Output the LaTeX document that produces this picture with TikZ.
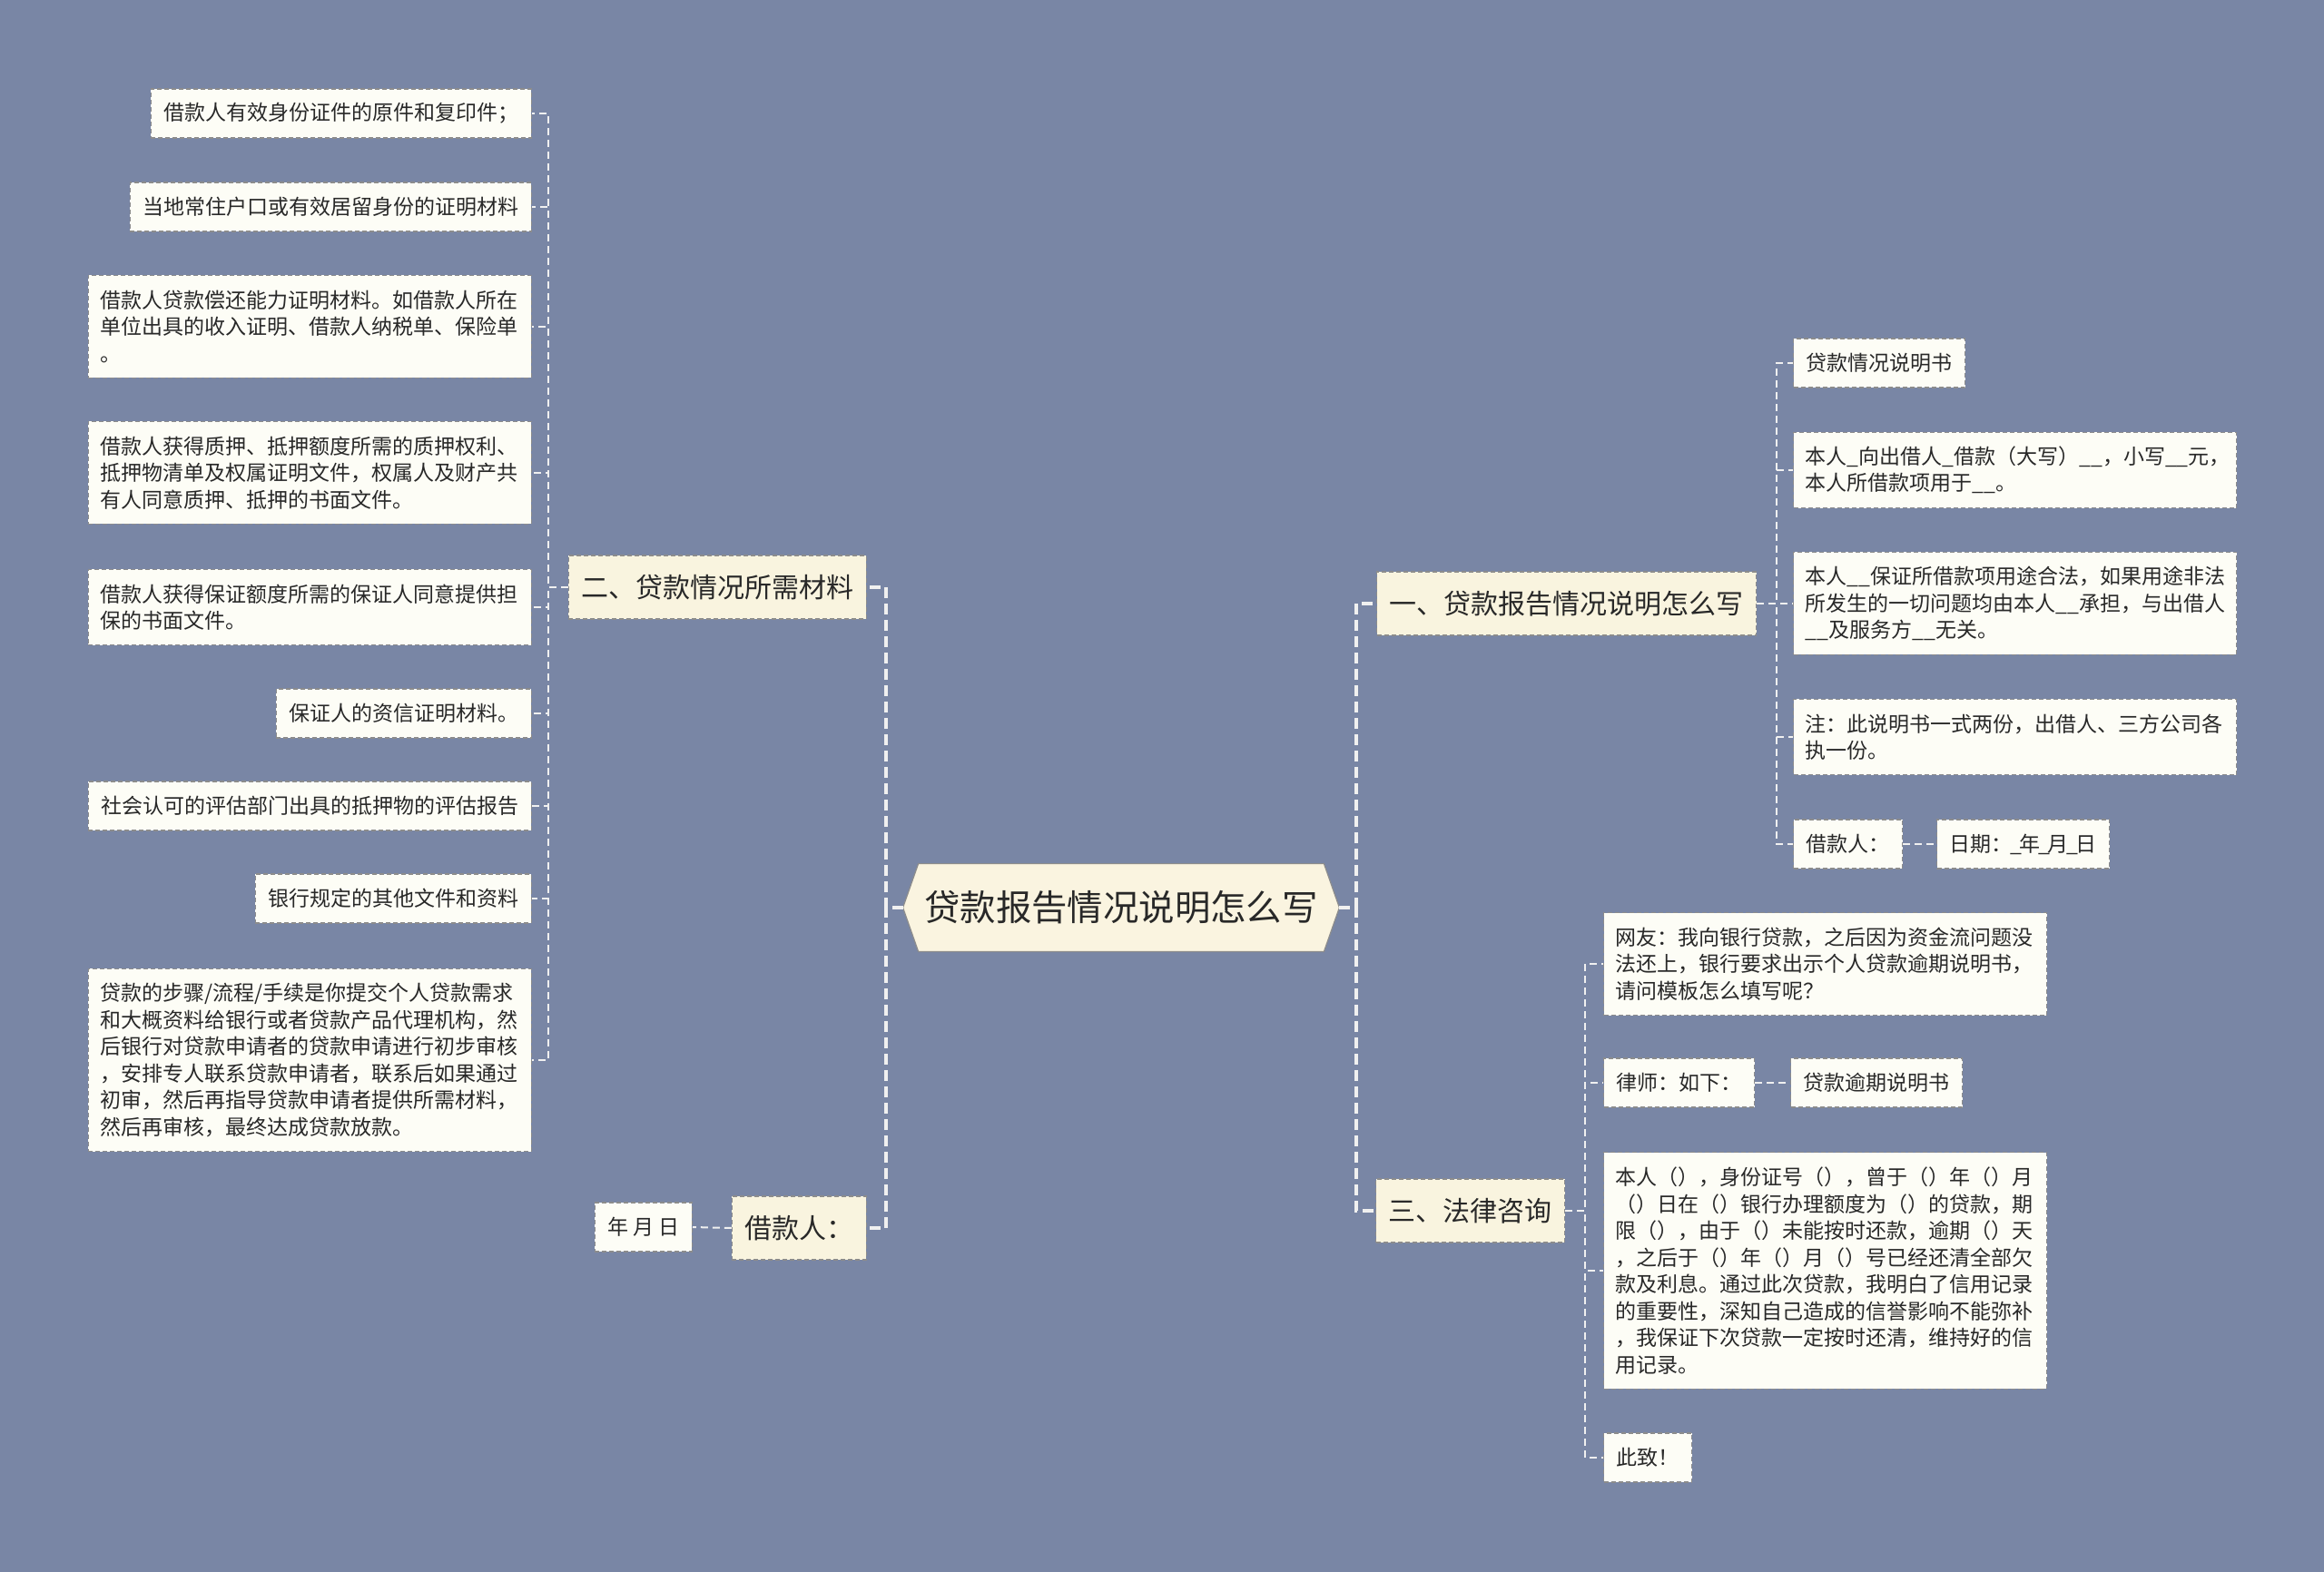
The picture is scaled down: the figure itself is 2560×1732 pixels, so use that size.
\documentclass[tikz,border=0pt]{standalone}
\usepackage{fontspec}
\setmainfont{Noto Sans CJK SC}
\usetikzlibrary{backgrounds}
\definecolor{bgc}{RGB}{121,134,165}
\definecolor{leaffill}{RGB}{253,253,246}
\definecolor{brfill}{RGB}{249,244,223}
\definecolor{mainfill}{RGB}{250,244,224}
\definecolor{bordc}{RGB}{140,140,140}
\definecolor{linec}{RGB}{240,240,240}
\definecolor{txt}{RGB}{40,40,40}
\newcommand{\nus}{\kern-1.2pt\_\kern-1.2pt}
\begin{document}
\begin{tikzpicture}[x=0.5pt,y=-0.5pt,
  mainnode/.style={minimum width=240pt, minimum height=48pt, inner sep=0pt, text=txt,
    font=\fontsize{19.7pt}{24pt}\selectfont},
  branch/.style={draw=bordc, line width=0.6pt, dash pattern=on 2.5pt off 1.5pt, fill=brfill, text=txt,
    font=\fontsize{15pt}{18pt}\selectfont, inner xsep=7pt, inner ysep=0pt, minimum height=35pt},
  leaf/.style={draw=bordc, line width=0.6pt, dash pattern=on 2.5pt off 1.5pt, fill=leaffill, text=txt,
    font=\fontsize{11.5pt}{14.75pt}\selectfont, inner xsep=7pt, inner ysep=0pt, align=left, minimum height=27pt},
  leafw/.style={leaf, text width=231pt, inner xsep=6.5pt},
  lines2/.style={minimum height=41.75pt},
  lines3/.style={minimum height=56.5pt},
  lines6/.style={minimum height=100.75pt},
  lines8/.style={minimum height=130.25pt},
  trunk/.style={draw=linec, line width=2pt, dash pattern=on 6pt off 3pt},
  twig/.style={draw=linec, line width=1pt, dash pattern=on 4pt off 2.5pt}]
\useasboundingbox (0,0) rectangle (2560,1732);

% central node
\node[mainnode] (main) at (1235,1000) {贷款报告情况说明怎么写};
\begin{scope}[on background layer]
  \fill[bgc] (0,0) rectangle (2560,1732);
  \filldraw[fill=mainfill, draw=bordc, line width=0.6pt]
    (main.west) -- ([xshift=8.5pt]main.north west) -- ([xshift=-8.5pt]main.north east)
    -- (main.east) -- ([xshift=-8.5pt]main.south east) -- ([xshift=8.5pt]main.south west) -- cycle;
\end{scope}

% branches
\node[branch, anchor=east] (b2) at (955,647) {二、贷款情况所需材料};
\node[branch, anchor=east] (b4) at (955,1353) {借款人：};
\node[branch, anchor=west] (b1) at (1516,665) {一、贷款报告情况说明怎么写};
\node[branch, anchor=west] (b3) at (1515,1334) {三、法律咨询};

% left leaves
\node[leaf, anchor=east] (l1) at (586,125) {借款人有效身份证件的原件和复印件；};
\node[leaf, anchor=east] (l2) at (586,228) {当地常住户口或有效居留身份的证明材料};
\node[leafw, lines3, anchor=east] (l3) at (586,360) {借款人贷款偿还能力证明材料。如借款人所在\\单位出具的收入证明、借款人纳税单、保险单\\。};
\node[leafw, lines3, anchor=east] (l4) at (586,521) {借款人获得质押、抵押额度所需的质押权利、\\抵押物清单及权属证明文件，权属人及财产共\\有人同意质押、抵押的书面文件。};
\node[leafw, lines2, anchor=east] (l5) at (586,669) {借款人获得保证额度所需的保证人同意提供担\\保的书面文件。};
\node[leaf, anchor=east] (l6) at (586,786) {保证人的资信证明材料。};
\node[leaf, anchor=east] (l7) at (586,888) {社会认可的评估部门出具的抵押物的评估报告};
\node[leaf, anchor=east] (l8) at (586,990) {银行规定的其他文件和资料};
\node[leafw, lines6, anchor=east] (l9) at (586,1168) {贷款的步骤/流程/手续是你提交个人贷款需求\\和大概资料给银行或者贷款产品代理机构，然\\后银行对贷款申请者的贷款申请进行初步审核\\，安排专人联系贷款申请者，联系后如果通过\\初审，然后再指导贷款申请者提供所需材料，\\然后再审核，最终达成贷款放款。};
\node[leaf, anchor=east] (d1) at (763,1352) {年 月 日};

% right leaves (branch one)
\node[leaf, anchor=west] (r1) at (1975,400) {贷款情况说明书};
\node[leafw, lines2, anchor=west] (r2) at (1975,518) {本人\_向出借人\_借款（大写）\_\_，小写\_\_元，\\本人所借款项用于\_\_。};
\node[leafw, lines3, anchor=west] (r3) at (1975,665) {本人\_\_保证所借款项用途合法，如果用途非法\\所发生的一切问题均由本人\_\_承担，与出借人\\\_\_及服务方\_\_无关。};
\node[leafw, lines2, anchor=west] (r4) at (1975,812) {注：此说明书一式两份，出借人、三方公司各\\执一份。};
\node[leaf, anchor=west] (r5) at (1975,930) {借款人：};
\node[leaf, anchor=west] (r6) at (2133,930) {日期：\nus 年\nus 月\nus 日};

% right leaves (branch three)
\node[leafw, lines3, anchor=west] (s1) at (1766,1062) {网友：我向银行贷款，之后因为资金流问题没\\法还上，银行要求出示个人贷款逾期说明书，\\请问模板怎么填写呢？};
\node[leaf, anchor=west] (s2) at (1766,1193) {律师：如下：};
\node[leaf, anchor=west] (s3) at (1972,1193) {贷款逾期说明书};
\node[leafw, lines8, anchor=west] (s4) at (1766,1400) {本人（），身份证号（），曾于（）年（）月\\（）日在（）银行办理额度为（）的贷款，期\\限（），由于（）未能按时还款，逾期（）天\\，之后于（）年（）月（）号已经还清全部欠\\款及利息。通过此次贷款，我明白了信用记录\\的重要性，深知自己造成的信誉影响不能弥补\\，我保证下次贷款一定按时还清，维持好的信\\用记录。};
\node[leaf, anchor=west] (s5) at (1766,1606) {此致！};

% trunk connectors
\draw[trunk] (main.west) -- ++(-19,0) |- (b2.east);
\draw[trunk] (main.west) -- ++(-19,0) |- (b4.east);
\draw[trunk] (main.east) -- ++(19,0) |- (b1.west);
\draw[trunk] (main.east) -- ++(19,0) |- (b3.west);

% twig connectors
\foreach \n in {l1,l2,l3,l4,l5,l6,l7,l8,l9}
  \draw[twig] (b2.west) -- ++(-22,0) |- (\n.east);
\draw[twig] (b4.west) -- (d1.east);
\foreach \n in {r1,r2,r3,r4,r5}
  \draw[twig] (b1.east) -- ++(22,0) |- (\n.west);
\draw[twig] (r5.east) -- (r6.west);
\foreach \n in {s1,s2,s4,s5}
  \draw[twig] (b3.east) -- ++(22,0) |- (\n.west);
\draw[twig] (s2.east) -- (s3.west);
\end{tikzpicture}
\end{document}
